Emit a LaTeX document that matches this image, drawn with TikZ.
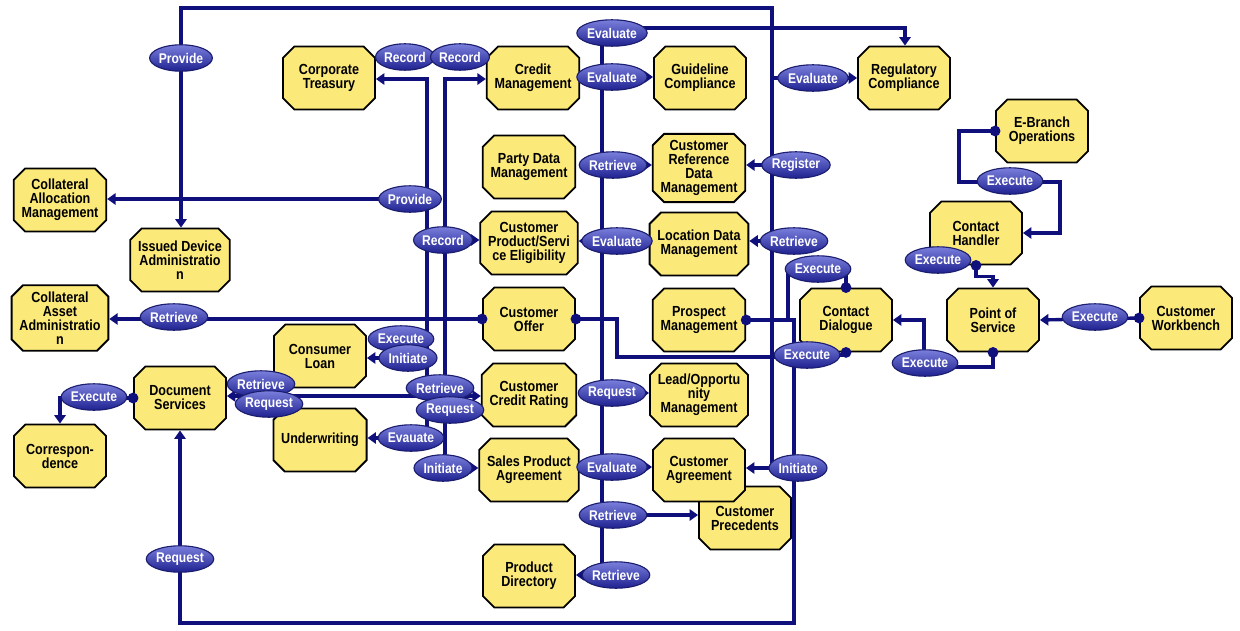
\documentclass[tikz,border=0pt]{standalone}
\usepackage{fontspec}
\setmainfont{Liberation Sans}[FakeStretch=0.86]
\usetikzlibrary{shapes.misc,shapes.geometric,arrows.meta,backgrounds}
\definecolor{boxfill}{HTML}{FBE97A}
\definecolor{navy}{HTML}{10107C}
\definecolor{elltop}{HTML}{7A7FDC}
\definecolor{ellmid}{HTML}{4A4FC0}
\definecolor{ellbot}{HTML}{1E2190}
\definecolor{elledge}{HTML}{1B1D6E}
\begin{document}
\begin{tikzpicture}[x=0.025cm,y=-0.025cm,
 sd/.style={chamfered rectangle, chamfered rectangle xsep=0.16cm, draw=black, line width=1.3pt, fill=boxfill, minimum width=2.3cm, minimum height=1.575cm, inner sep=1pt, align=center, font=\fontsize{10.4pt}{10pt}\selectfont\bfseries},
 act/.style={ellipse, draw=elledge, line width=0.8pt, top color=elltop, middle color=ellmid, bottom color=ellbot, minimum width=1.45cm, minimum height=0.66cm, inner sep=0pt, text=white, font=\fontsize{10pt}{10pt}\selectfont\bfseries},
 conn/.style={draw=navy, line width=2.4pt},
 arr/.style={conn, -{Triangle[length=6pt,width=8pt]}},
 jdot/.style={circle, fill=navy, minimum size=0.27cm, inner sep=0pt}
]
\useasboundingbox (0,0) rectangle (1240,630);

% service domains
\node[sd] (ct) at (329,78) {Corporate\\Treasury};
\node[sd] (cm) at (533,78) {Credit\\Management};
\node[sd] (gc) at (700,78) {Guideline\\Compliance};
\node[sd] (rc) at (904,78) {Regulatory\\Compliance};
\node[sd] (eb) at (1042,131) {E-Branch\\Operations};
\node[sd] (pdm) at (529,167) {Party Data\\Management};
\node[sd] (crd) at (699,168) {Customer\\Reference\\Data\\Management};
\node[sd] (cam) at (60,200) {Collateral\\Allocation\\Management};
\node[sd] (ida) at (180,260) {Issued Device\\Administratio\\n};
\node[sd] (cpse) at (529,243) {Customer\\Product/Servi\\ce Eligibility};
\node[sd] (ldm) at (699,244) {Location Data\\Management};
\node[sd] (ch) at (976,233) {Contact\\Handler};
\node[sd] (caa) at (60,318) {Collateral\\Asset\\Administratio\\n};
\node[sd] (co) at (529,319) {Customer\\Offer};
\node[sd] (pm) at (699,320) {Prospect\\Management};
\node[sd] (cd) at (846,320) {Contact\\Dialogue};
\node[sd] (pos) at (993,320) {Point of\\Service};
\node[sd] (cw) at (1186,318) {Customer\\Workbench};
\node[sd] (cl) at (320,356) {Consumer\\Loan};
\node[sd] (ds) at (180,398) {Document\\Services};
\node[sd] (uw) at (320,440) {Underwriting};
\node[sd] (corr) at (60,456) {Correspon-\\dence};
\node[sd] (ccr) at (529,395) {Customer\\Credit Rating};
\node[sd] (lom) at (699,395) {Lead/Opportu\\nity\\Management};
\node[sd] (spa) at (529,470) {Sales Product\\Agreement};
\node[sd] (cp) at (745,518) {Customer\\Precedents};
\node[sd] (ca) at (699,470) {Customer\\Agreement};
\node[sd] (pd) at (529,576) {Product\\Directory};

% actions
\node[act] (e1) at (181,58) {Provide};
\node[act] (e2) at (405,57) {Record};
\node[act] (e3) at (460,57) {Record};
\node[act] (e4) at (612,33) {Evaluate};
\node[act] (e5) at (612,77) {Evaluate};
\node[act] (e6) at (813,78) {Evaluate};
\node[act] (e7) at (613,165) {Retrieve};
\node[act] (e8) at (796,165) {Register};
\node[act] (e9) at (410,199) {Provide};
\node[act] (e10) at (443,240) {Record};
\node[act] (e11) at (617,241) {Evaluate};
\node[act] (e12) at (794,241) {Retrieve};
\node[act] (e13) at (818,269) {Execute};
\node[act] (e14) at (938,260) {Execute};
\node[act] (e15) at (1010,181) {Execute};
\node[act] (e16) at (1095,317) {Execute};
\node[act] (e17) at (925,363) {Execute};
\node[act] (e18) at (807,355) {Execute};
\node[act] (e19) at (174,317) {Retrieve};
\node[act] (e20) at (401,339) {Execute};
\node[act] (e21) at (408,358) {Initiate};
\node[act] (e22) at (440,388) {Retrieve};
\node[act] (e23) at (450,410) {Request};
\node[act] (e24) at (411,438) {Evauate};
\node[act] (e25) at (443,468) {Initiate};
\node[act] (e26) at (261,384) {Retrieve};
\node[act] (e27) at (269,404) {Request};
\node[act] (e28) at (94,397) {Execute};
\node[act] (e29) at (180,559) {Request};
\node[act] (e30) at (612,393) {Request};
\node[act] (e31) at (612,467) {Evaluate};
\node[act] (e32) at (798,468) {Initiate};
\node[act] (e33) at (613,515) {Retrieve};
\node[act] (e34) at (616,575) {Retrieve};

% dots
\node[jdot] (d1) at (co.west) {};
\node[jdot] (d2) at (co.east) {};
\node[jdot] (d3) at (pm.east) {};
\node[jdot] (d4) at (cd.north) {};
\node[jdot] (d5) at (cd.south) {};
\node[jdot] (d6) at (pos.south) {};
\node[jdot] (d7) at (cw.west) {};
\node[jdot] (d8) at (ch.south) {};
\node[jdot] (d9) at (eb.west) {};
\node[jdot] (d10) at (ds.west) {};

\begin{scope}[on background layer]
\coordinate (t1) at (772,8);
\draw[conn] (e1.center) -- (e1.center |- t1) -- (t1) -- (t1 |- e32.center);
\draw[arr] (e1.center) -- (e1.center |- ida.north);
\draw[arr] (t1 |- e6.center) -- (e6.center -| rc.west);
\draw[arr] (e8.center) -- (e8.center -| crd.east);
\draw[arr] (e12.center) -- (e12.center -| ldm.east);
\draw[arr] (e32.center) -- (e32.center -| ca.east);
\coordinate (r1) at (905,28);
\draw[arr] (e4.center |- r1) -- (r1) -- (r1 |- rc.north);
\coordinate (v1) at (602,0);
\draw[conn] (v1 |- e4.center) -- (v1 |- e34.center);
\draw[arr] (e5.center) -- (e5.center -| gc.west);
\draw[arr] (e7.center) -- (e7.center -| crd.west);
\draw[arr] (e11.center) -- (e11.center -| cpse.east);
\draw[arr] (e30.center) -- (e30.center -| lom.west);
\draw[arr] (e31.center) -- (e31.center -| ca.west);
\draw[arr] (e33.center) -- (e33.center -| cp.west);
\draw[arr] (e34.center) -- (e34.center -| pd.east);
\coordinate (a1) at (427,79);
\coordinate (b1) at (445,79);
\draw[arr] (a1 |- e24.center) -- (a1) -- (a1 -| ct.east);
\draw[arr] (b1 |- e25.center) -- (b1) -- (b1 -| cm.west);
\draw[arr] (e9.center) -- (e9.center -| cam.east);
\draw[arr] (e10.center) -- (e10.center -| cpse.west);
\draw[arr] (e21.center) -- (e21.center -| cl.east);
\draw[arr] (e24.center) -- (e24.center -| uw.east);
\draw[arr] (e25.center) -- (e25.center -| spa.west);
\coordinate (c1) at (0,396);
\draw[conn, {Triangle[length=6pt,width=8pt]}-{Triangle[length=6pt,width=8pt]}] (ds.east |- c1) -- (ccr.west |- c1);
\draw[arr] (co.west) -- (co.west -| caa.east);
\coordinate (k1) at (617,357);
\draw[conn] (co.east) -| (k1) -- (k1 -| e18.center);
\coordinate (p1) at (788,320);
\coordinate (t2) at (794,623);
\draw[conn] (pm.east) -- (p1) |- (e13.center);
\draw[conn] (p1) -- (p1 -| t2) -- (t2) -| (e29.center);
\draw[arr] (e29.center) -- (ds.south);
\draw[conn] (e13.center) -| (cd.north);
\draw[conn] (e18.center) -| (cd.south);
\coordinate (q1) at (924,367);
\draw[arr] (pos.south) |- (q1) |- (cd.east);
\draw[arr] (cw.west) -- (pos.east);
\draw[arr] (ch.south) -- ++(0,11) -| (pos.north);
\coordinate (w1) at (959,182);
\coordinate (w2) at (1060,182);
\draw[arr] (eb.west) -| (w1) -- (w2) |- (ch.east);
\draw[arr] (ds.west) -- (ds.west -| e28.center) -| (corr.north);
\end{scope}
\end{tikzpicture}
\end{document}
